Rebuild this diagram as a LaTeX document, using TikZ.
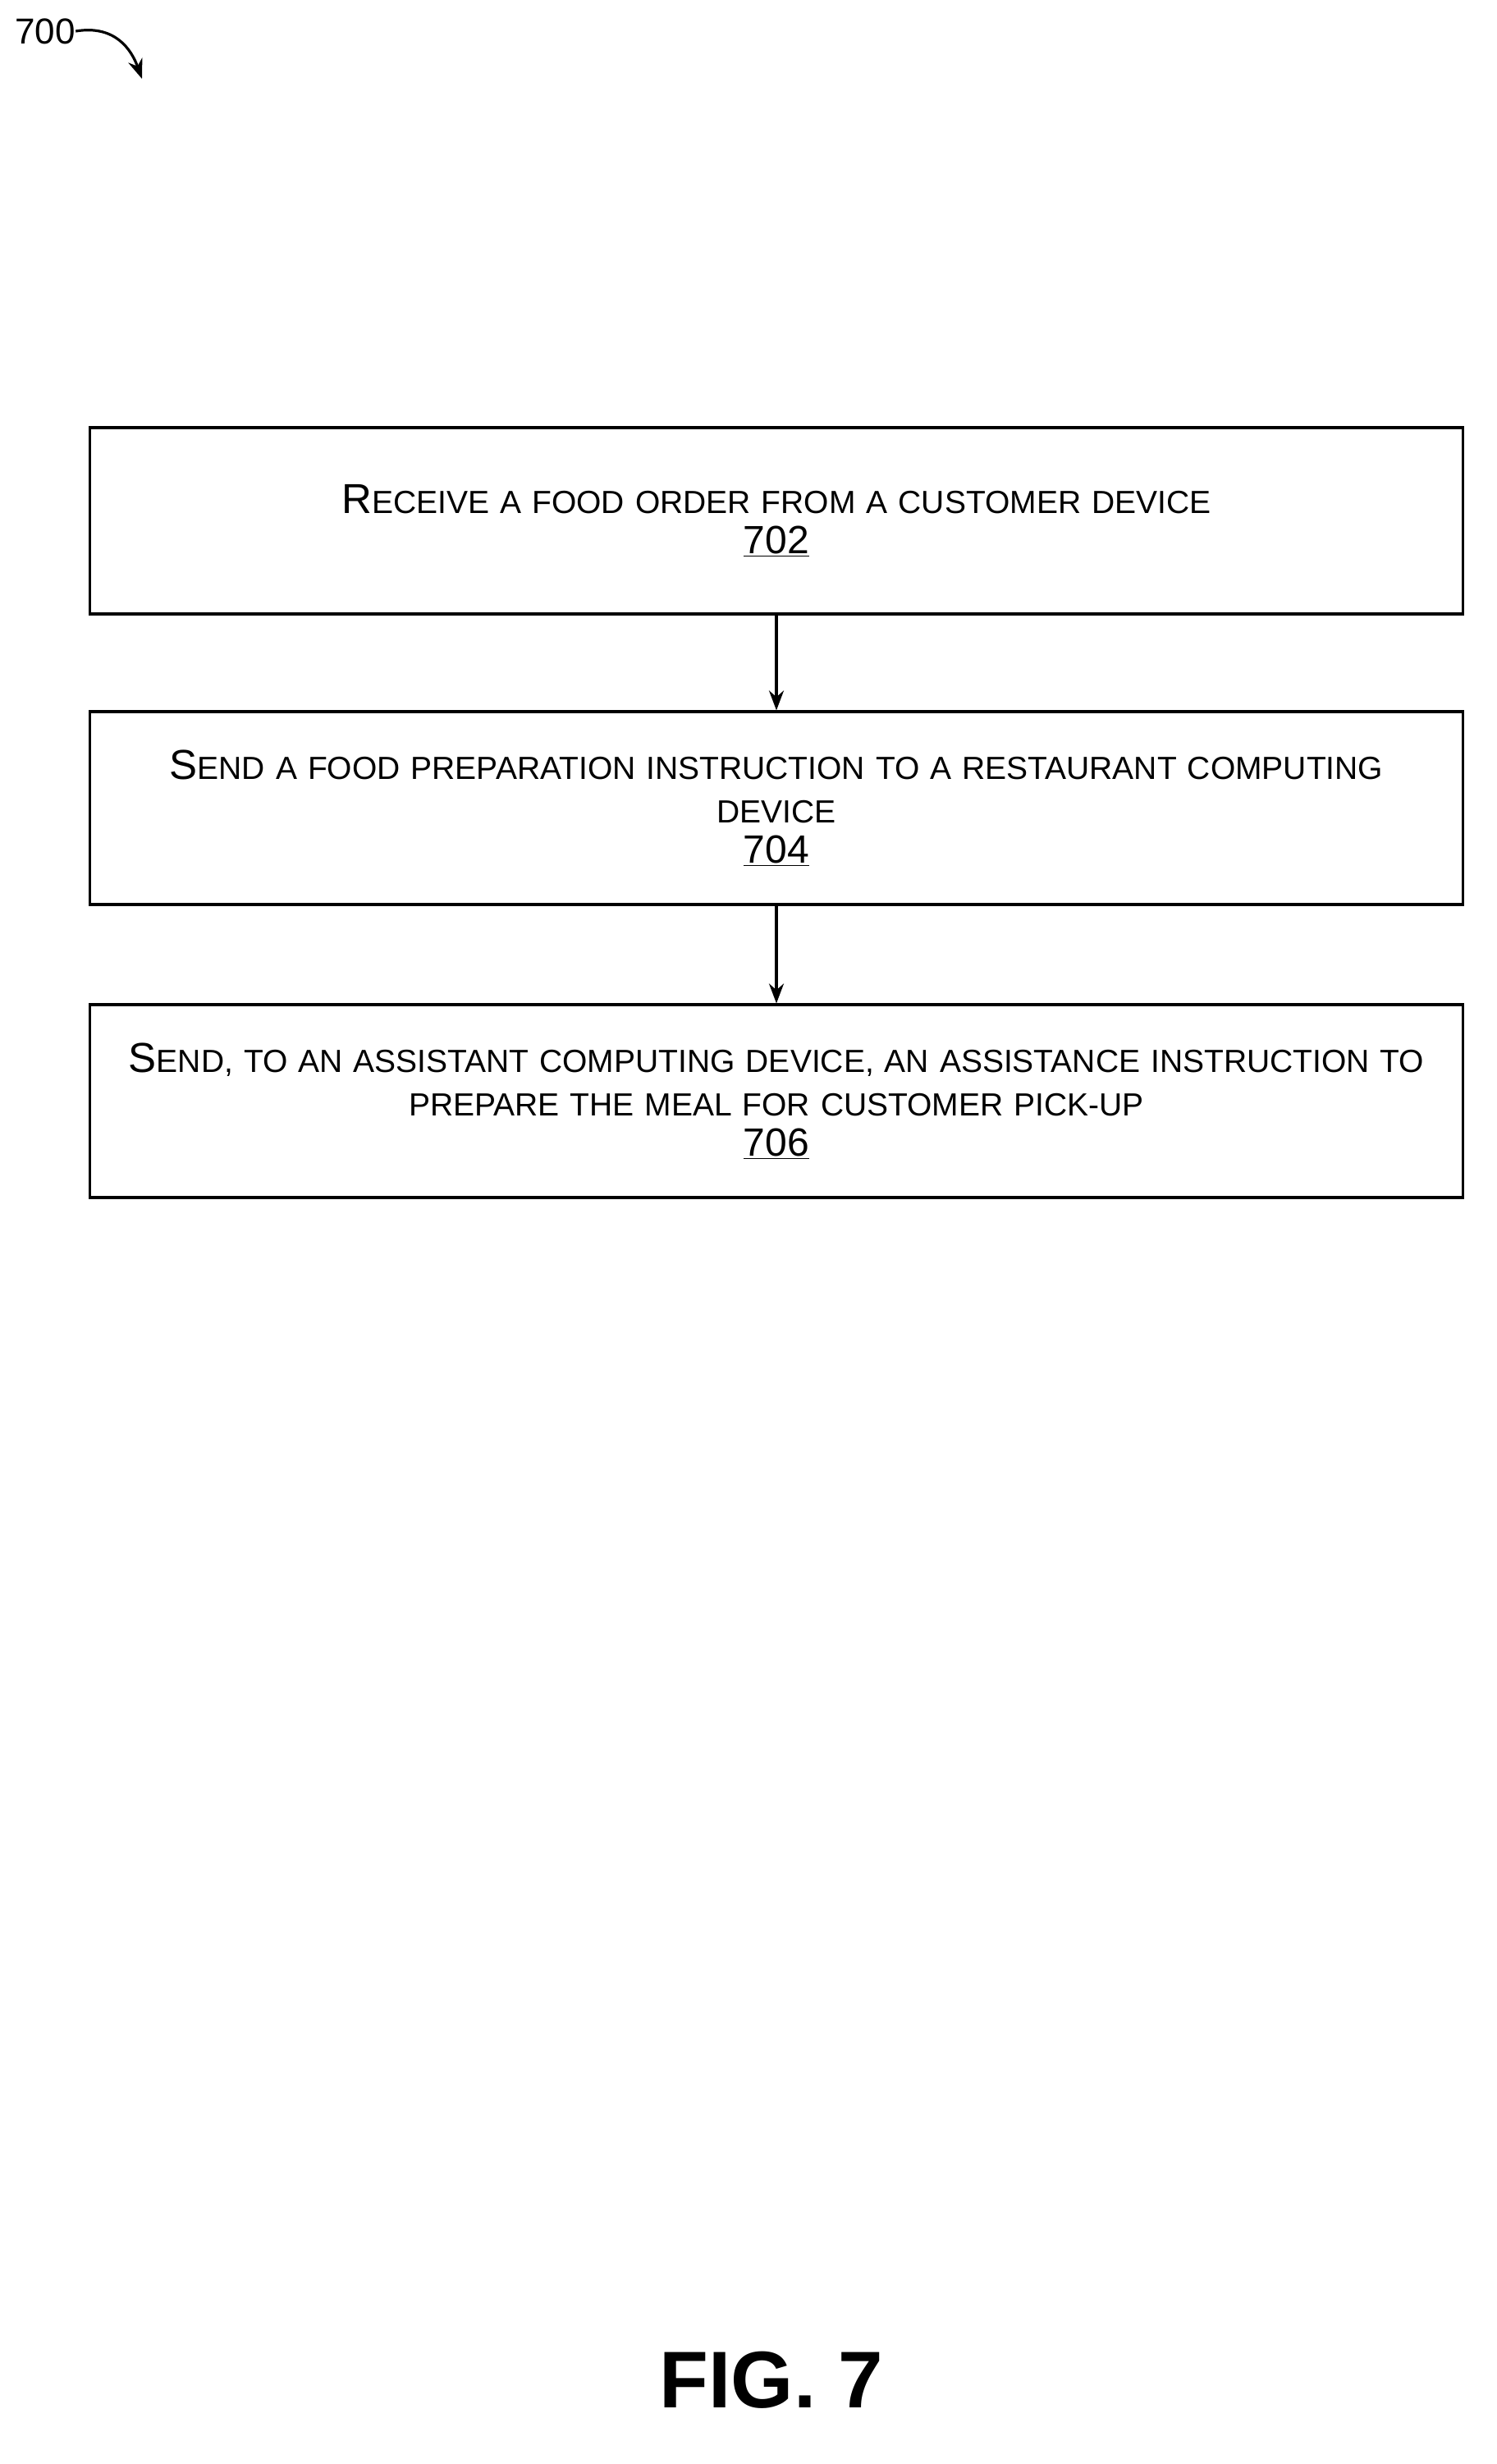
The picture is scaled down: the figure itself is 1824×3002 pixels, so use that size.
\documentclass[tikz,border=0pt]{standalone}
\usepackage{fontspec}
\setmainfont{Liberation Sans}
\usetikzlibrary{arrows.meta}
\newcommand\BigCap[1]{{\fontsize{25.5}{27}\selectfont #1}}
\newcommand\RefNum[1]{{\fontsize{24}{27}\selectfont\underline{#1}}}
\tikzset{box/.style={draw,line width=1.6pt,minimum width=829pt,text width=830pt,align=center,font=\fontsize{19.5}{26.5}\selectfont},
arr/.style={-{Stealth[length=12pt,width=9pt]},line width=1.6pt}}
\begin{document}
\begin{tikzpicture}[x=0.5pt,y=-0.5pt]
\useasboundingbox (0,0) rectangle (1824,3002);
\node[box,minimum height=113.5pt] (b1) at (946,634.5) {\BigCap{R}ECEIVE A FOOD ORDER FROM A CUSTOMER DEVICE\\[-2pt]\RefNum{702}};
\node[box,minimum height=117.5pt] (b2) at (946,984.5) {\BigCap{S}END A FOOD PREPARATION INSTRUCTION TO A RESTAURANT COMPUTING\\DEVICE\\[-2pt]\RefNum{704}};
\node[box,minimum height=117.5pt] (b3) at (946,1341.5) {\BigCap{S}END, TO AN ASSISTANT COMPUTING DEVICE, AN ASSISTANCE INSTRUCTION TO\\PREPARE THE MEAL FOR CUSTOMER PICK-UP\\[-2pt]\RefNum{706}};
\draw[arr] (b1) -- (b2);
\draw[arr] (b2) -- (b3);
\node[font=\fontsize{22}{24}\selectfont,anchor=west,inner sep=0] (lbl) at (18,38) {700};
\coordinate (tip) at (173,96);
\draw[arr] (lbl.east) .. controls (140,30) and (160,60) .. (tip);
\node[font=\bfseries\fontsize{49}{56}\selectfont] (fig) at (940,2900) {FIG. 7};
\end{tikzpicture}
\end{document}
